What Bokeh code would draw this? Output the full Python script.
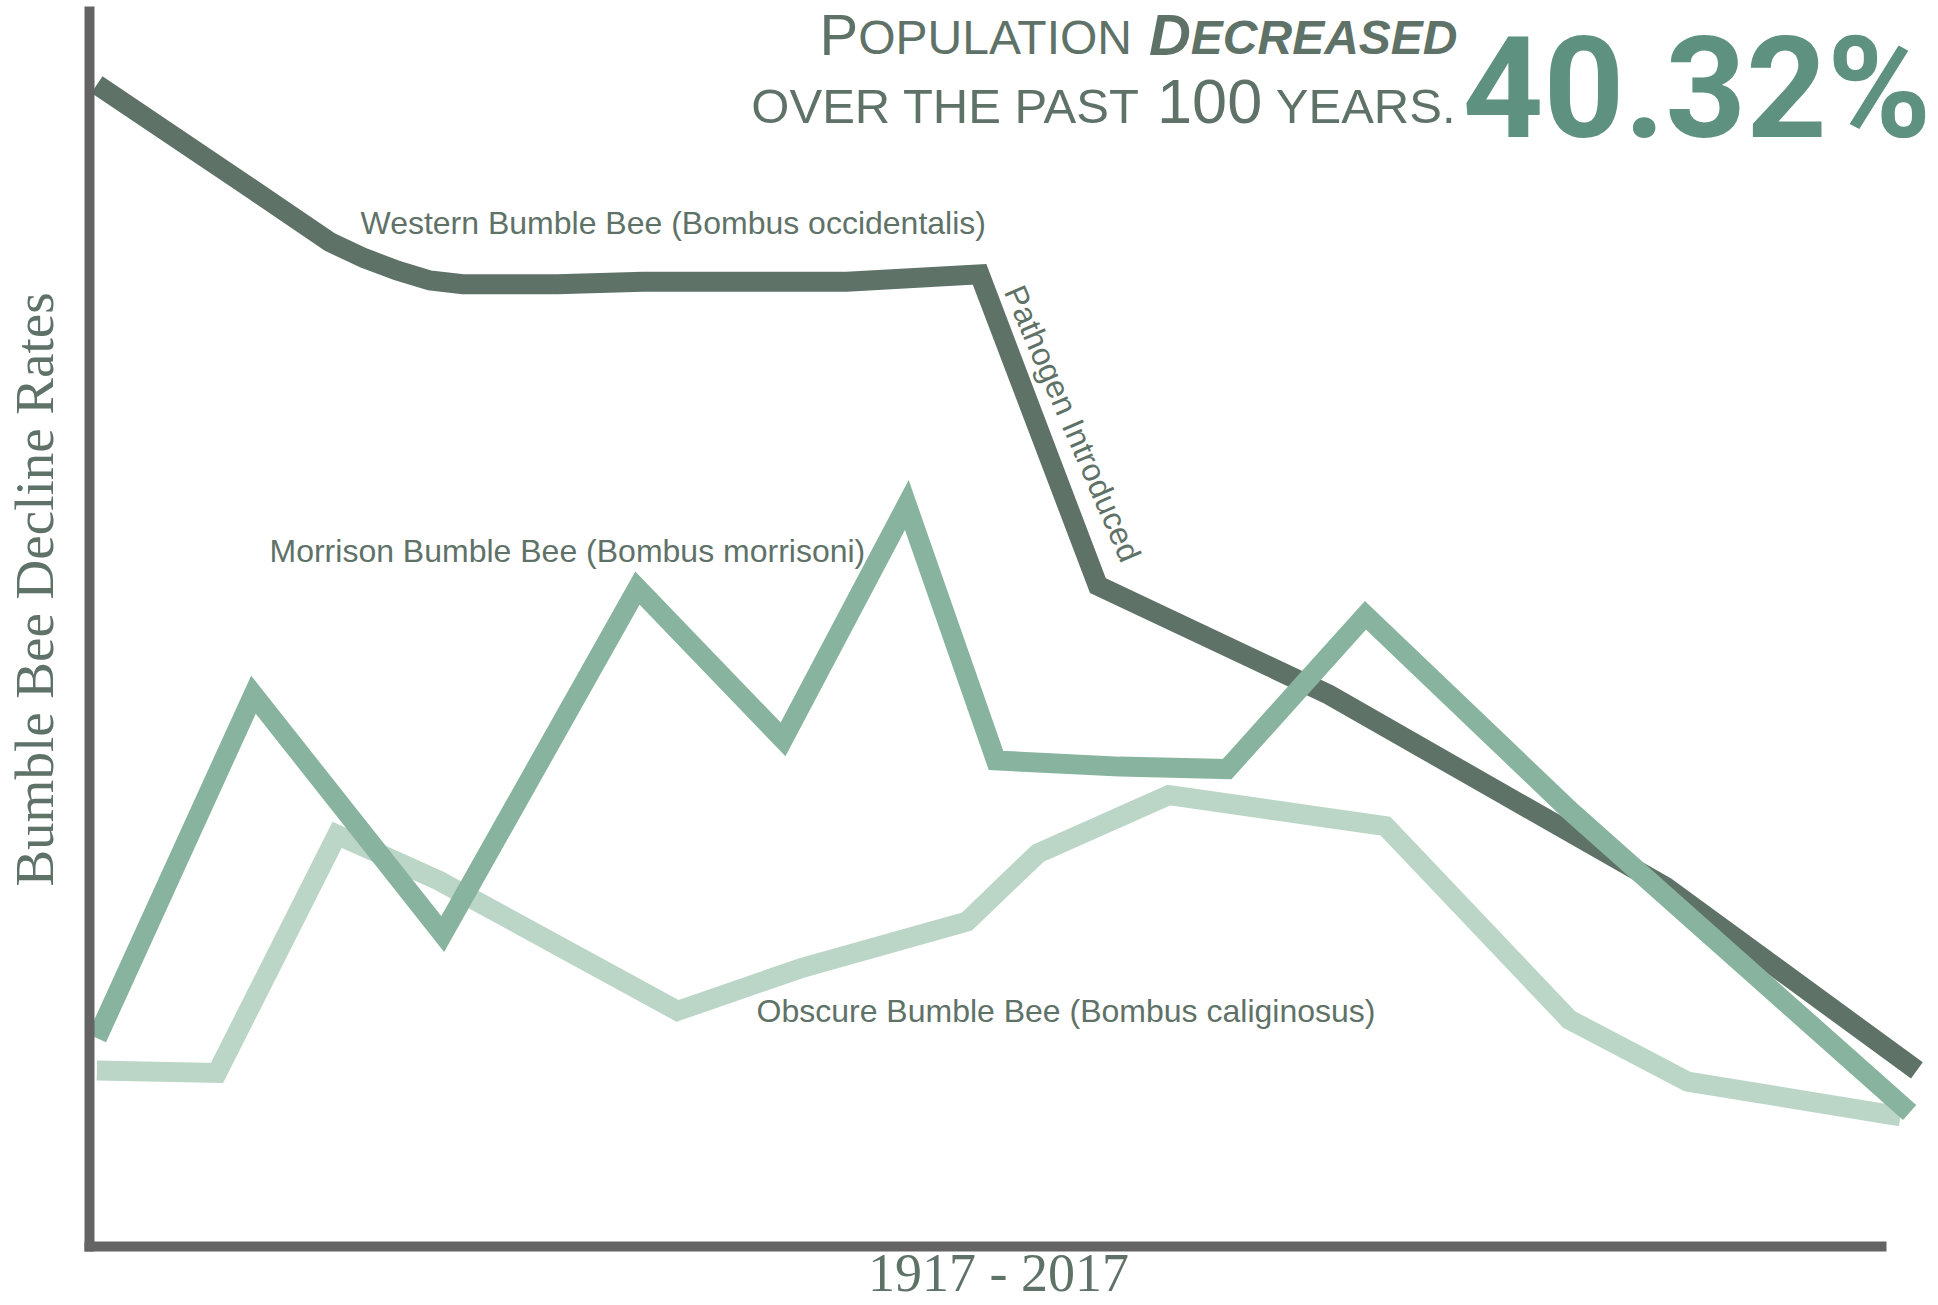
import math
from bokeh.plotting import figure
from bokeh.models import Range1d, Label, FixedTicker
from bokeh.embed import file_html
from bokeh.resources import INLINE

# ---------------- data ----------------
western_years = [1917.0, 1925.6, 1929.8, 1931.7, 1933.5, 1935.3, 1937.1, 1942.3,
                 1947.0, 1958.2, 1965.5, 1972.0, 1984.7, 1994.0, 2003.2, 2017.0]
western_rates = [93.7, 85.2, 81.0, 79.7, 78.7, 77.9, 77.6, 77.6,
                 77.8, 77.8, 78.4, 53.3, 44.5, 36.7, 29.0, 14.2]

morrison_years = [1917.0, 1925.6, 1936.0, 1946.7, 1954.7, 1961.5, 1966.4,
                  1973.2, 1979.1, 1986.7, 1997.9, 2016.6]
morrison_rates = [16.8, 44.5, 25.2, 53.1, 40.9, 59.8, 39.2,
                  38.7, 38.5, 50.9, 35.2, 10.8]

obscure_years = [1917.0, 1923.6, 1930.2, 1935.8, 1948.9, 1955.8, 1964.8,
                 1968.7, 1975.9, 1987.8, 1997.9, 2004.4, 2016.1]
obscure_rates = [14.2, 14.0, 33.2, 29.5, 19.0, 22.5, 26.2,
                 31.7, 36.4, 33.9, 18.3, 13.3, 10.5]

series_names = ["Western Bumble Bee (Bombus occidentalis)",
                "Morrison Bumble Bee (Bombus morrisoni)",
                "Obscure Bumble Bee (Bombus caliginosus)"]
annotation_text = "Pathogen Introduced"
headline_value = "40.32%"
x_title = "1917 - 2017"
y_title = "Bumble Bee Decline Rates"

# ---------------- layout ----------------
W, H = 1938, 1304
FL, FR, FT, FB = 0, W, 0, H            # frame covers the whole canvas
X0 = 1917 - 96.4 / 18.2
X1 = X0 + W / 18.2
Y1 = 1246 / 12.4
Y0 = -(H - 1246) / 12.4

DARK = "#5f7268"
MID = "#88b49f"
LIGHT = "#bbd6c7"
AXIS = "#646464"
TXT = "#5f7268"
BIG = "#5e9180"


def dx(px):
    return X0 + (px - FL) * (X1 - X0) / (FR - FL)


def dy(py):
    return Y0 + (FB - py) * (Y1 - Y0) / (FB - FT)


p = figure(width=W, height=H, output_backend="svg", toolbar_location=None,
           x_range=Range1d(X0, X1), y_range=Range1d(Y0, Y1),
           min_border_left=0, min_border_right=0, min_border_top=0,
           min_border_bottom=0)
p.outline_line_color = None
p.grid.visible = False
p.background_fill_color = "white"
p.border_fill_color = "white"

for ax in (p.xaxis, p.yaxis):
    ax.ticker = FixedTicker(ticks=[])
    ax.axis_line_width = 10
    ax.axis_line_color = AXIS
    ax.axis_line_cap = "square"
    ax.major_tick_line_color = None
    ax.minor_tick_line_color = None
    ax.major_tick_out = 0
    ax.major_tick_in = 0
    ax.major_label_text_font_size = "0px"
    ax.major_label_standoff = 0
p.xaxis.fixed_location = 0
p.xaxis.bounds = (dx(89), dx(1881))
p.yaxis.fixed_location = dx(89)
p.yaxis.bounds = (0, dy(11))

LW = 20
p.line(obscure_years, obscure_rates, line_width=LW, line_color=LIGHT,
       line_join="miter", line_cap="butt")
p.line(western_years, western_rates, line_width=LW, line_color=DARK,
       line_join="miter", line_cap="butt")
p.line(morrison_years, morrison_rates, line_width=LW, line_color=MID,
       line_join="miter", line_cap="butt")

SANS = "Liberation Sans"
SERIF = "Liberation Serif"
MID_SANS = 0.35     # em distance from baseline to text middle
MID_SERIF = 0.3375


def label(px, base, text, font, size, color=TXT, style="normal", align="left",
          angle=0.0, mid=MID_SANS):
    p.add_layout(Label(x=dx(px), y=dy(base - mid * size), text=text,
                       text_font=font, text_font_size=f"{size}px",
                       text_font_style=style, text_color=color,
                       text_align=align, text_baseline="middle", angle=angle))


# series labels
for name, (px, py) in zip(series_names, [(360, 234), (269, 562), (756, 1022)]):
    label(px, py, name, SANS, 32)

p.add_layout(Label(x=dx(1072), y=dy(423), text=annotation_text, text_font=SANS,
                   text_font_size="32px", text_color=TXT,
                   angle=-math.radians(66.6), text_align="center",
                   text_baseline="middle"))

# axis titles
p.add_layout(Label(x=dx(34), y=dy(589), text=y_title, text_font=SERIF,
                   text_font_size="55px", text_color=TXT, angle=math.pi / 2,
                   text_align="center", text_baseline="middle"))
label(998, 1291, x_title, SERIF, 54, align="center", mid=MID_SERIF)

# headline number
label(1462, 136, headline_value, "Roboto", 141, color=BIG, style="bold", mid=0.34)

# small-caps headline text, built from pieces
REG = {' ': 278, '.': 278, 'A': 667, 'C': 722, 'D': 722, 'E': 667, 'H': 722,
       'I': 278, 'L': 556, 'N': 722, 'O': 778, 'P': 667, 'R': 722, 'S': 667,
       'T': 611, 'U': 722, 'V': 667, 'Y': 667}
BOLD = {'A': 722, 'C': 722, 'D': 722, 'E': 667, 'R': 722, 'S': 667, ' ': 278}
for d in "0123456789":
    REG[d] = 556
    BOLD[d] = 556


def tw(text, size, style):
    table = BOLD if "bold" in style else REG
    return sum(table.get(c, 600) for c in text) * size / 1000.0


def place(pieces, right, base):
    total = sum(tw(t, s, st) for t, s, st in pieces)
    x = right - total
    for t, s, st in pieces:
        if t.strip():
            label(x, base, t, SANS, s, style=st)
        x += tw(t, s, st)


line1 = [("P", 58, "normal"), ("OPULATION", 48, "normal"), (" ", 48, "normal"),
         ("D", 58, "bold italic"), ("ECREASED", 48, "bold italic")]
line2 = [("OVER THE PAST", 49, "normal"), (" ", 49, "normal"), ("100", 63, "normal"),
         (" ", 49, "normal"), ("YEARS.", 49, "normal")]
place(line1, 1457, 54)
place(line2, 1455, 123)

open("out.html", "w").write(file_html(p, INLINE))
